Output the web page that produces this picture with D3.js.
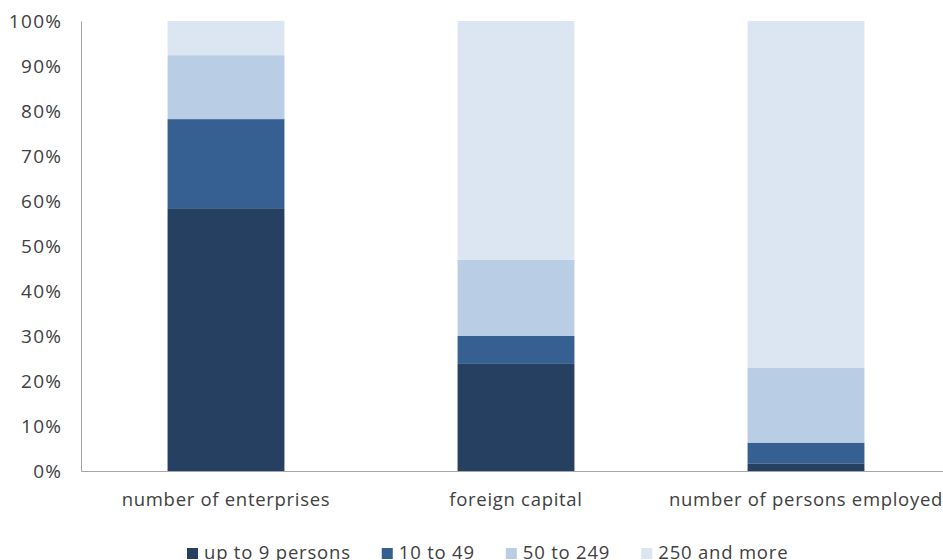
<!DOCTYPE html>
<html>
<head>
<meta charset="utf-8">
<script src="https://cdn.jsdelivr.net/npm/d3@7"></script>
<style>
  body { margin: 0; background: #fff; }
  text { font-family: 'Open Sans', Lato, sans-serif; fill: #404040; }
</style>
</head>
<body>
<div id="chart"></div>
<script>
// categories and series (percent of total)
const categories = ['number of enterprises', 'foreign capital', 'number of persons employed'];
const seriesNames = ['up to 9 persons', '10 to 49', '50 to 249', '250 and more'];
const upTo9 = [58.4, 23.8, 1.7];
const from10to49 = [19.8, 6.2, 4.6];
const from50to249 = [14.2, 16.9, 16.7];
const over250 = [7.6, 53.1, 77.0];
const yTicks = [0, 10, 20, 30, 40, 50, 60, 70, 80, 90, 100];

const colors = ['#254061', '#376092', '#b9cde5', '#dce6f2'];

const width = 943, height = 560;
const margin = { top: 21, right: -8, bottom: 89, left: 81 };
const innerW = width - margin.left - margin.right,
  innerH = height - margin.top - margin.bottom;

const data = categories.map((c, i) => ({
  cat: c,
  'up to 9 persons': upTo9[i],
  '10 to 49': from10to49[i],
  '50 to 249': from50to249[i],
  '250 and more': over250[i],
}));

const svg = d3
  .select('#chart')
  .append('svg')
  .attr('width', width)
  .attr('height', height);

const g = svg.append('g').attr('transform', `translate(${margin.left}, ${margin.top})`);

const x = d3.scaleBand().domain(categories).range([0, innerW]).paddingInner(0.597).paddingOuter(0.2985);
const y = d3.scaleLinear().domain([0, 100]).range([innerH, 0]);

const stacked = d3.stack().keys(seriesNames)(data);

// bars
g.selectAll('.series')
  .data(stacked)
  .enter()
  .append('g')
  .attr('fill', (d, i) => colors[i])
  .selectAll('rect')
  .data((d) => d)
  .enter()
  .append('rect')
  .attr('x', (d) => x(d.data.cat))
  .attr('width', x.bandwidth())
  .attr('y', (d) => y(d[1]))
  .attr('height', (d) => y(d[0]) - y(d[1]));

// Y axis
const yAxis = g
  .append('g')
  .call(d3.axisLeft(y).tickValues(yTicks).tickSize(0).tickPadding(20).tickFormat((d) => d + '%'));
yAxis.select('.domain').attr('stroke', '#a6a6a6');
yAxis.selectAll('text').style('font-size', '19px').style('letter-spacing', '1.3px')
  .attr('dx', '1.3px').style('font-family', "'Open Sans', sans-serif");

// X axis
const xAxis = g
  .append('g')
  .attr('transform', `translate(0, ${innerH})`)
  .call(d3.axisBottom(x).tickSize(0).tickPadding(22));
xAxis.select('.domain').attr('stroke', '#a6a6a6');
xAxis.selectAll('text').style('font-size', '18.5px').style('letter-spacing', '0.7px')
  .style('font-family', "'Open Sans', sans-serif");

// Legend
const legend = svg.append('g').attr('transform', 'translate(0, 553)');
let lx = 187;
seriesNames.forEach((name, i) => {
  legend.append('rect').attr('x', lx).attr('y', -5).attr('width', 11).attr('height', 11).attr('fill', colors[i]);
  const t = legend
    .append('text')
    .attr('x', lx + 17)
    .attr('y', 0)
    .attr('dy', '0.35em')
    .style('font-size', '18.5px')
    .style('letter-spacing', '0.8px')
    .text(name);
  lx += 17 + t.node().getComputedTextLength() + 31;
});
</script>
</body>
</html>
